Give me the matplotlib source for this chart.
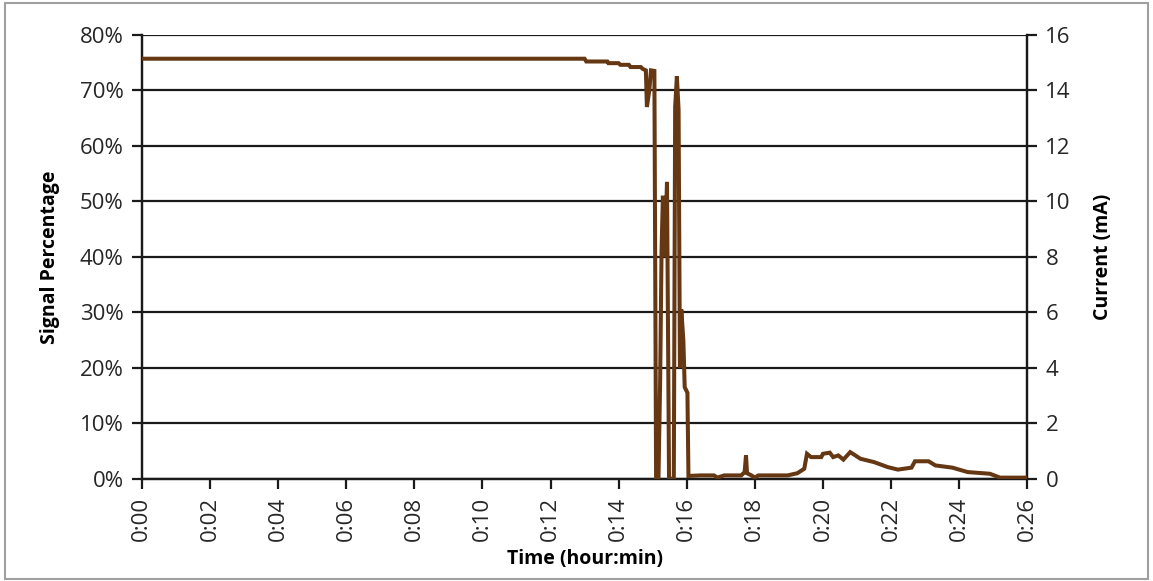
import matplotlib
matplotlib.use('Agg')
import matplotlib.pyplot as plt
from matplotlib.patches import Rectangle
from matplotlib.ticker import FuncFormatter

plt.rcParams['font.family'] = ['Open Sans', 'DejaVu Sans']

# time in minutes, current in mA
minutes = [0.0, 13.0, 13.05, 13.67, 13.7, 14.0, 14.05, 14.3, 14.35, 14.65,
           14.7, 14.8, 14.83, 14.9, 14.95, 15.05, 15.1, 15.17, 15.22, 15.26,
           15.3, 15.36, 15.42, 15.48, 15.62, 15.66, 15.71, 15.76, 15.80, 15.84,
           15.90, 15.94, 15.98, 16.02, 16.05, 16.4, 16.8, 16.9, 17.1, 17.6,
           17.7, 17.74, 17.77, 17.9, 18.0, 18.1, 18.96, 19.25, 19.45, 19.53,
           19.65, 19.95, 20.0, 20.2, 20.3, 20.45, 20.6, 20.8, 21.1, 21.5,
           21.9, 22.2, 22.6, 22.7, 23.1, 23.3, 23.8, 24.25, 24.9, 25.2, 26.0]
current = [15.14, 15.14, 15.04, 15.04, 14.98, 14.98, 14.92, 14.92, 14.84, 14.84,
           14.78, 14.72, 13.4, 14.0, 14.72, 14.7, 0.0, 0.0, 3.6, 8.2,
           10.2, 8.0, 10.7, 0.0, 0.0, 13.4, 14.5, 13.3, 4.0, 6.1,
           5.0, 3.3, 3.2, 3.1, 0.1, 0.12, 0.12, 0.04, 0.12, 0.12,
           0.24, 0.84, 0.2, 0.12, 0.04, 0.12, 0.12, 0.2, 0.36, 0.9,
           0.78, 0.78, 0.9, 0.94, 0.78, 0.84, 0.69, 0.96, 0.72, 0.6,
           0.42, 0.33, 0.4, 0.63, 0.63, 0.48, 0.4, 0.24, 0.18, 0.04, 0.04]

pct_ticks = [0, 10, 20, 30, 40, 50, 60, 70, 80]
ma_ticks = [0, 2, 4, 6, 8, 10, 12, 14, 16]
time_ticks = list(range(0, 27, 2))

fig = plt.figure(figsize=(11.53, 5.81), dpi=100)
ax = fig.add_axes([0.123, 0.176, 0.768, 0.764])
ax2 = ax.twinx()

ax.set_xlim(0, 26)
ax.set_ylim(0, 80)
ax2.set_ylim(0, 16)

# horizontal gridlines
for p in pct_ticks:
    ax.axhline(p, color='#1a1a1a', lw=1.6, zorder=1)

ax2.plot(minutes, current, color='#653813', lw=2.9, solid_joinstyle='miter', zorder=3)

ax.set_yticks(pct_ticks)
ax.yaxis.set_major_formatter(FuncFormatter(lambda v, p: '%d%%' % v))
ax2.set_yticks(ma_ticks)
ax.set_xticks(time_ticks)
ax.xaxis.set_major_formatter(FuncFormatter(lambda v, p: '0:%02d' % v))
plt.setp(ax.get_xticklabels(), rotation=90)

for a in (ax, ax2):
    a.spines['top'].set_visible(False)
    for s in ('left', 'right', 'bottom'):
        a.spines[s].set_color('#1a1a1a')
        a.spines[s].set_linewidth(1.6)
    a.tick_params(colors='#1a1a1a', labelcolor='#262626', labelsize=16,
                  width=1.6, length=7, direction='out', pad=6)

ax.set_ylabel('Signal Percentage', fontsize=14, fontweight='bold', labelpad=14)
ax2.set_ylabel('Current (mA)', fontsize=14, fontweight='bold', labelpad=16)
ax.set_xlabel('Time (hour:min)', fontsize=14, fontweight='bold', labelpad=6)

fig.patches.append(Rectangle((0.004, 0.004), 0.992, 0.99, transform=fig.transFigure,
                             fill=False, edgecolor='#a0a0a0', lw=1.5))

plt.savefig('out.png', dpi=100)
